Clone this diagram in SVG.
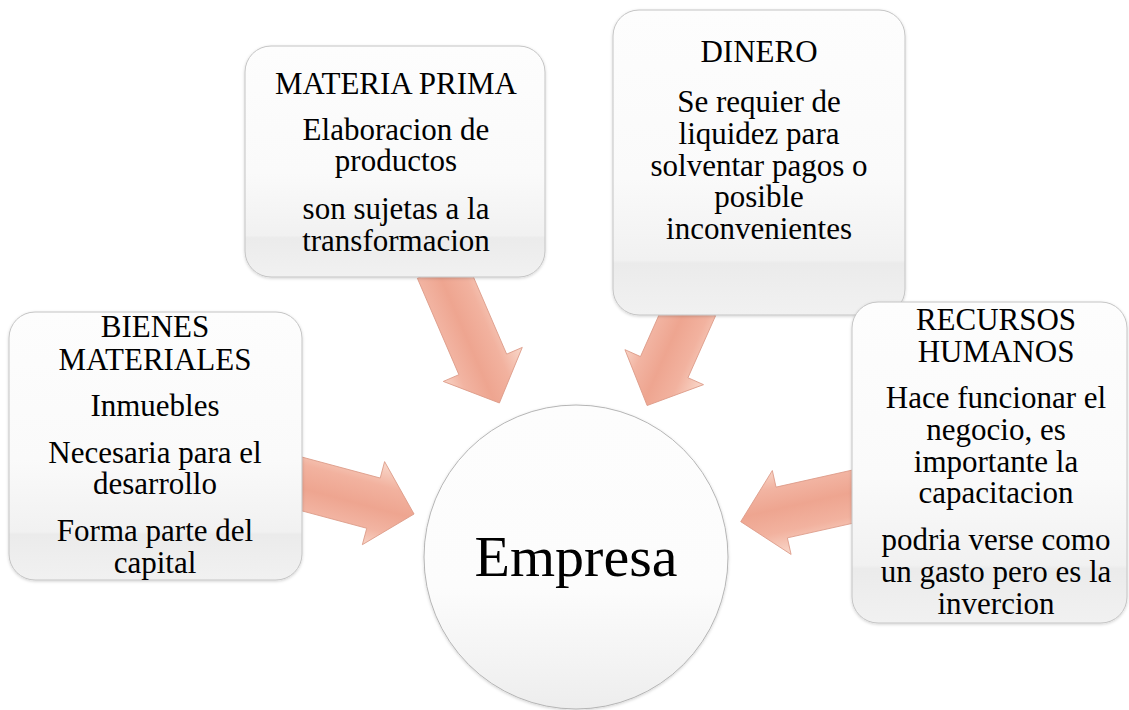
<svg xmlns="http://www.w3.org/2000/svg" width="1129" height="710" viewBox="0 0 1129 710">
<defs>
<linearGradient id="boxg" x1="0" y1="0" x2="0" y2="1">
<stop offset="0" stop-color="#fdfdfd"/>
<stop offset="0.55" stop-color="#fafafa"/>
<stop offset="0.82" stop-color="#f1f1f1"/>
<stop offset="0.83" stop-color="#ebebeb"/>
<stop offset="1" stop-color="#f1f1f1"/>
</linearGradient>
<linearGradient id="circg" x1="0" y1="0" x2="0" y2="1">
<stop offset="0" stop-color="#fdfdfd"/>
<stop offset="0.6" stop-color="#fcfcfc"/>
<stop offset="0.8" stop-color="#f5f5f5"/>
<stop offset="1" stop-color="#ededed"/>
</linearGradient>
<linearGradient id="arrg" x1="0" y1="0" x2="0" y2="1">
<stop offset="0" stop-color="#f9d9cc"/>
<stop offset="0.28" stop-color="#f2b29f"/>
<stop offset="0.55" stop-color="#eea590"/>
<stop offset="0.8" stop-color="#f2b4a2"/>
<stop offset="1" stop-color="#f8d3c5"/>
</linearGradient>
<filter id="sh" x="-10%" y="-10%" width="120%" height="120%">
<feDropShadow dx="0" dy="1" stdDeviation="1.5" flood-color="#000" flood-opacity="0.18"/>
</filter>
</defs>
<style>
.box{fill:url(#boxg);stroke:#c4c4c4;stroke-width:1;filter:url(#sh)}
.circ{fill:url(#circg);stroke:#b5b5b5;stroke-width:1;filter:url(#sh)}
.arr{fill:url(#arrg);stroke:#dc9a87;stroke-width:0.8}
text{font-family:"Liberation Serif","Times New Roman",serif;fill:#000;text-anchor:middle}
.t{font-size:31px}
.big{font-size:58px}
</style>
<g id="connectors">
<polygon class="arr" transform="translate(302,484) rotate(15)" points="-12,-26 74,-26 74,-43 116,0 74,43 74,26 -12,26"/>
<polygon class="arr" transform="translate(446,279) rotate(66.7)" points="-12,-26 93,-26 93,-43 135,0 93,43 93,26 -12,26"/>
<polygon class="arr" transform="translate(687,316) rotate(114)" points="-12,-26 56,-26 56,-43 98,0 56,43 56,26 -12,26"/>
<polygon class="arr" transform="translate(851,497) rotate(167.4)" points="-12,-26 71,-26 71,-43 113,0 71,43 71,26 -12,26"/>
</g>
<g id="empresa">
<circle class="circ" cx="576" cy="557" r="152"/>
<text class="big" x="576" y="576">Empresa</text>
</g>
<g id="bienes">
<rect class="box" x="9" y="312" width="293" height="268" rx="26"/>
<text class="t" x="155" y="337">BIENES</text>
<text class="t" x="155" y="370">MATERIALES</text>
<text class="t" x="155" y="416">Inmuebles</text>
<text class="t" x="155" y="463">Necesaria para el</text>
<text class="t" x="155" y="494">desarrollo</text>
<text class="t" x="155" y="541">Forma parte del</text>
<text class="t" x="155" y="573">capital</text>
</g>
<g id="materia">
<rect class="box" x="245" y="46" width="300" height="231" rx="26"/>
<text class="t" x="396" y="94">MATERIA PRIMA</text>
<text class="t" x="396" y="140">Elaboracion de</text>
<text class="t" x="396" y="171">productos</text>
<text class="t" x="396" y="219">son sujetas a la</text>
<text class="t" x="396" y="251">transformacion</text>
</g>
<g id="dinero">
<rect class="box" x="613" y="10" width="292" height="305" rx="26"/>
<text class="t" x="759" y="62">DINERO</text>
<text class="t" x="759" y="112">Se requier de</text>
<text class="t" x="759" y="144">liquidez para</text>
<text class="t" x="759" y="176">solventar pagos o</text>
<text class="t" x="759" y="207">posible</text>
<text class="t" x="759" y="239">inconvenientes</text>
</g>
<g id="recursos">
<rect class="box" x="852" y="302" width="275" height="321" rx="26"/>
<text class="t" x="996" y="330">RECURSOS</text>
<text class="t" x="996" y="362">HUMANOS</text>
<text class="t" x="996" y="408">Hace funcionar el</text>
<text class="t" x="996" y="440">negocio, es</text>
<text class="t" x="996" y="472">importante la</text>
<text class="t" x="996" y="503">capacitacion</text>
<text class="t" x="996" y="550">podria verse como</text>
<text class="t" x="996" y="582">un gasto pero es la</text>
<text class="t" x="996" y="614">invercion</text>
</g>
</svg>
